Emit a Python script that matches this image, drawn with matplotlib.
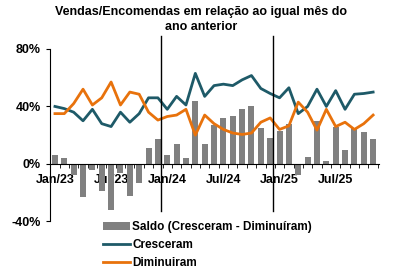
import numpy as np
import matplotlib
matplotlib.use("Agg")
import matplotlib.pyplot as plt
from matplotlib.ticker import FuncFormatter

plt.rcParams["font.family"] = ["Liberation Sans", "DejaVu Sans"]
plt.rcParams["font.weight"] = "bold"

# Dados (Jan/23 a Nov/25)
meses = ["Jan/23", "Fev/23", "Mar/23", "Abr/23", "Mai/23", "Jun/23", "Jul/23", "Ago/23", "Set/23", "Out/23", "Nov/23", "Dez/23",
         "Jan/24", "Fev/24", "Mar/24", "Abr/24", "Mai/24", "Jun/24", "Jul/24", "Ago/24", "Set/24", "Out/24", "Nov/24", "Dez/24",
         "Jan/25", "Fev/25", "Mar/25", "Abr/25", "Mai/25", "Jun/25", "Jul/25", "Ago/25", "Set/25", "Out/25", "Nov/25"]
saldo = [6, 4, -8, -23, -4, -19, -32, -6, -22, -13, 11, 17,
         6, 14, 4, 44, 14, 27, 32, 33, 38, 40, 25, 18,
         23, 28, -8, 5, 30, 2, 26, 10, 25, 22, 17]
cresceram = [40, 38.5, 36, 30, 38, 28, 26, 36, 29, 35, 46, 46,
             38, 47, 41, 63, 47, 54.5, 55.5, 54.5, 58.5, 61.5, 52.5, 49,
             46, 53, 35, 40, 52, 40, 51, 38, 48.5, 49, 50]
diminuiram = [35, 35, 42, 52, 41, 46, 57, 41, 50, 48.5, 36, 30.5,
              33, 34, 38, 20, 34, 28, 24, 21.5, 20.5, 21.5, 29, 32,
              24, 26.5, 43, 36, 23.5, 38, 26, 29, 24, 28, 34]
rotulos_x = ["Jan/23", "Jul/23", "Jan/24", "Jul/24", "Jan/25", "Jul/25"]
pos_rotulos = [0, 6, 12, 18, 24, 30]
divisorias = [11.35, 23.35]

cinza = "#808080"
azul = "#1e5a68"
laranja = "#e8720c"

fig = plt.figure(figsize=(4, 2.79), dpi=100)
ax = fig.add_axes([0.125, 0.2065, 0.823, 0.618])

x = np.arange(len(meses))
barras = ax.bar(x, saldo, width=0.64, color=cinza, label="Saldo (Cresceram - Diminuíram)", zorder=2)
l1, = ax.plot(x, cresceram, color=azul, lw=2.0, label="Cresceram", zorder=3)
l2, = ax.plot(x, diminuiram, color=laranja, lw=2.0, label="Diminuiram", zorder=3)

for d in divisorias:
    ax.axvline(d, ymin=0.063, ymax=1.078, color="black", lw=1.0, clip_on=False, zorder=4)

ax.set_xlim(-0.53, 34.65)
ax.set_ylim(-40, 80)
ax.set_yticks([-40, 0, 40, 80])
ax.yaxis.set_major_formatter(FuncFormatter(lambda v, p: f"{v:.0f}%"))

ax.spines["bottom"].set_position(("data", 0))
ax.spines["top"].set_visible(False)
ax.spines["right"].set_visible(False)
ax.set_xticks(pos_rotulos)
ax.set_xticklabels(rotulos_x)
ax.set_xticks(np.arange(-0.5, 35, 1), minor=True)
ax.tick_params(axis="x", which="major", length=0, pad=7, labelsize=9)
ax.tick_params(axis="x", which="minor", length=3, direction="out")
ax.tick_params(axis="y", length=3, labelsize=9)

ax.set_title("Vendas/Encomendas em relação ao igual mês do\nano anterior",
             fontsize=9, fontweight="bold", pad=14, x=0.46, linespacing=1.25)

fig.legend(handles=[barras, l1, l2], loc="upper left", bbox_to_anchor=(0.245, 0.225),
           frameon=False, fontsize=8.5, handlelength=2.3, handletextpad=0.2,
           labelspacing=0.5, borderaxespad=0)

fig.savefig("out.png", dpi=100)
